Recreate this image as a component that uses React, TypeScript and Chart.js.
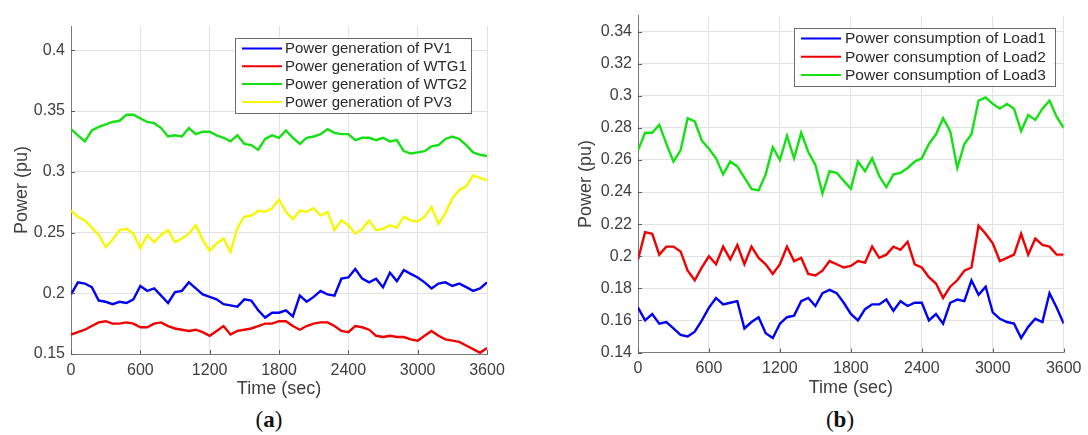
import { useEffect, useRef } from "react";
import { Chart, registerables } from "chart.js";

Chart.register(...registerables);

// ---------- data ----------
const timeSec = [
  0, 60, 120, 180, 240, 300, 360, 420, 480, 540, 600, 660, 720, 780, 840, 900,
  960, 1020, 1080, 1140, 1200, 1260, 1320, 1380, 1440, 1500, 1560, 1620, 1680,
  1740, 1800, 1860, 1920, 1980, 2040, 2100, 2160, 2220, 2280, 2340, 2400, 2460,
  2520, 2580, 2640, 2700, 2760, 2820, 2880, 2940, 3000, 3060, 3120, 3180, 3240,
  3300, 3360, 3420, 3480, 3540, 3600,
];
const timeTicks = [0, 600, 1200, 1800, 2400, 3000, 3600];
const genTicks = [0.15, 0.2, 0.25, 0.3, 0.35, 0.4];
const loadTicks = [0.14, 0.16, 0.18, 0.2, 0.22, 0.24, 0.26, 0.28, 0.3, 0.32, 0.34];

const genLabels = [
  "Power generation of PV1",
  "Power generation of WTG1",
  "Power generation of WTG2",
  "Power generation of PV3",
];
const loadLabels = [
  "Power consumption of Load1",
  "Power consumption of Load2",
  "Power consumption of Load3",
];

const pv1 = [
  0.199, 0.209, 0.208, 0.205, 0.194, 0.193, 0.191, 0.193, 0.192, 0.195, 0.206,
  0.202, 0.204, 0.198, 0.192, 0.201, 0.202, 0.209, 0.204, 0.199, 0.197, 0.195,
  0.191, 0.19, 0.189, 0.195, 0.194, 0.186, 0.18, 0.184, 0.184, 0.186, 0.181,
  0.198, 0.193, 0.197, 0.202, 0.199, 0.198, 0.212, 0.213, 0.22, 0.212, 0.209,
  0.212, 0.205, 0.217, 0.21, 0.219, 0.216, 0.213, 0.209, 0.204, 0.208, 0.209,
  0.206, 0.208, 0.205, 0.202, 0.204, 0.209,
];
const wtg1 = [
  0.166, 0.168, 0.17, 0.173, 0.176, 0.177, 0.175, 0.175, 0.176, 0.175, 0.172,
  0.172, 0.175, 0.176, 0.173, 0.171, 0.17, 0.169, 0.17, 0.168, 0.165, 0.169,
  0.173, 0.166, 0.169, 0.17, 0.171, 0.173, 0.175, 0.175, 0.177, 0.177, 0.173,
  0.17, 0.173, 0.175, 0.176, 0.176, 0.173, 0.169, 0.168, 0.173, 0.172, 0.17,
  0.165, 0.164, 0.165, 0.164, 0.164, 0.162, 0.161, 0.165, 0.169, 0.165, 0.162,
  0.161, 0.16, 0.157, 0.154, 0.151, 0.155,
];
const wtg2 = [
  0.335, 0.33, 0.325, 0.334, 0.337, 0.339, 0.341, 0.342, 0.347, 0.347, 0.344,
  0.341, 0.34, 0.336, 0.329, 0.33, 0.329, 0.336, 0.331, 0.333, 0.333, 0.33,
  0.328, 0.325, 0.33, 0.323, 0.322, 0.318, 0.327, 0.33, 0.328, 0.334, 0.328,
  0.323, 0.328, 0.329, 0.331, 0.335, 0.332, 0.331, 0.331, 0.326, 0.328, 0.328,
  0.326, 0.328, 0.325, 0.326, 0.317, 0.315, 0.316, 0.317, 0.321, 0.322, 0.327,
  0.329, 0.327, 0.322, 0.316, 0.314, 0.313,
];
const pv3 = [
  0.268, 0.263, 0.26, 0.254, 0.248, 0.238, 0.244, 0.252, 0.253, 0.249, 0.237,
  0.248, 0.242, 0.248, 0.252, 0.242, 0.245, 0.249, 0.256, 0.244, 0.235, 0.241,
  0.245, 0.234, 0.254, 0.263, 0.264, 0.268, 0.267, 0.27, 0.277, 0.267, 0.261,
  0.268, 0.267, 0.27, 0.264, 0.267, 0.252, 0.26, 0.256, 0.249, 0.253, 0.26,
  0.252, 0.253, 0.256, 0.254, 0.263, 0.26, 0.259, 0.263, 0.271, 0.257, 0.266,
  0.278, 0.285, 0.288, 0.297, 0.295, 0.293,
];

const load1 = [
  0.168, 0.16, 0.164, 0.158, 0.159, 0.155, 0.151, 0.15, 0.153, 0.16, 0.168,
  0.174, 0.17, 0.171, 0.172, 0.155, 0.159, 0.162, 0.152, 0.149, 0.158, 0.162,
  0.163, 0.172, 0.174, 0.169, 0.177, 0.179, 0.177, 0.171, 0.164, 0.16, 0.167,
  0.17, 0.17, 0.173, 0.166, 0.172, 0.169, 0.171, 0.171, 0.16, 0.164, 0.158,
  0.171, 0.173, 0.172, 0.185, 0.176, 0.181, 0.165, 0.161, 0.159, 0.158, 0.149,
  0.156, 0.161, 0.159, 0.177, 0.168, 0.158,
];
const load2 = [
  0.198, 0.215, 0.214, 0.201, 0.206, 0.206, 0.203, 0.191, 0.185, 0.193, 0.2,
  0.195, 0.206, 0.198, 0.207, 0.195, 0.206, 0.199, 0.195, 0.189, 0.195, 0.206,
  0.197, 0.199, 0.189, 0.188, 0.191, 0.197, 0.195, 0.193, 0.194, 0.197, 0.196,
  0.206, 0.199, 0.201, 0.206, 0.204, 0.209, 0.195, 0.193, 0.187, 0.183, 0.174,
  0.181, 0.185, 0.191, 0.193, 0.219, 0.214, 0.208, 0.197, 0.199, 0.201, 0.214,
  0.201, 0.211, 0.207, 0.206, 0.201, 0.201,
];
const load3 = [
  0.266, 0.277, 0.277, 0.282, 0.27, 0.259, 0.266, 0.286, 0.284, 0.272, 0.267,
  0.261, 0.251, 0.259, 0.256, 0.249, 0.242, 0.241, 0.251, 0.268, 0.26, 0.275,
  0.261, 0.277, 0.265, 0.257, 0.239, 0.253, 0.252, 0.247, 0.242, 0.259, 0.253,
  0.261, 0.25, 0.243, 0.251, 0.252, 0.255, 0.259, 0.261, 0.27, 0.276, 0.286,
  0.278, 0.255, 0.27, 0.276, 0.297, 0.299, 0.295, 0.292, 0.295, 0.292, 0.278,
  0.288, 0.285, 0.292, 0.297, 0.287, 0.28,
];

// ---------- styling ----------
const SANS = '"Liberation Sans", Arial, Helvetica, sans-serif';
const BLUE = "#0000f5";
const RED = "#f00000";
const GREEN = "#14e014";
const YELLOW = "#f7f700";
const TEXT = "#404040";
const GRID = "#e2e2e2";
const AXIS = "#7a7a7a";

const innerTicks = {
  id: "innerTicks",
  afterDatasetsDraw(chart: any) {
    const { ctx, chartArea, scales } = chart;
    const x = scales.x;
    const y = scales.y;
    ctx.save();
    ctx.strokeStyle = "#5c5c5c";
    ctx.lineWidth = 1;
    ctx.beginPath();
    x.ticks.forEach((t: any) => {
      const px = Math.round(x.getPixelForValue(t.value)) + 0.5;
      ctx.moveTo(px, chartArea.bottom);
      ctx.lineTo(px, chartArea.bottom - 4);
    });
    y.ticks.forEach((t: any) => {
      const py = Math.round(y.getPixelForValue(t.value)) + 0.5;
      ctx.moveTo(chartArea.left, py);
      ctx.lineTo(chartArea.left + 4, py);
    });
    ctx.stroke();
    ctx.restore();
  },
};

const boxLegend = {
  id: "boxLegend",
  afterDraw(chart: any, _args: any, opts: any) {
    const { ctx } = chart;
    const { x, y, w, h, rowY0, rowGap, lineX1, lineX2, textX, fontSize } = opts;
    ctx.save();
    ctx.fillStyle = "#ffffff";
    ctx.fillRect(x, y, w, h);
    ctx.strokeStyle = "#6b6b6b";
    ctx.lineWidth = 1;
    ctx.strokeRect(Math.round(x) + 0.5, Math.round(y) + 0.5, Math.round(w), Math.round(h));
    ctx.font = `${fontSize}px ${SANS}`;
    ctx.textBaseline = "middle";
    ctx.textAlign = "left";
    chart.data.datasets.forEach((ds: any, i: number) => {
      const ry = rowY0 + i * rowGap;
      ctx.strokeStyle = ds.borderColor;
      ctx.lineWidth = 2;
      ctx.beginPath();
      ctx.moveTo(lineX1, ry);
      ctx.lineTo(lineX2, ry);
      ctx.stroke();
      ctx.fillStyle = "#2a2a2a";
      ctx.fillText(ds.label, textX, ry + 0.5);
    });
    ctx.restore();
  },
};

type PanelProps = {
  width: number;
  height: number;
  labels: string[];
  series: number[][];
  colors: string[];
  yMin: number;
  yMax: number;
  yTicks: number[];
  padRight: number;
  padTop: number;
  yWidth: number;
  xHeight: number;
  yTitlePad: number;
  xTickPad: number;
  legend: any;
};

function Panel(p: PanelProps) {
  const ref = useRef<HTMLCanvasElement | null>(null);
  useEffect(() => {
    if (!ref.current) return;
    const chart = new Chart(ref.current, {
      type: "line",
      data: {
        datasets: p.series.map((vals, i) => ({
          label: p.labels[i],
          data: timeSec.map((t, k) => ({ x: t, y: vals[k] })),
          borderColor: p.colors[i],
          backgroundColor: p.colors[i],
          borderWidth: 2.4,
          pointRadius: 0,
          tension: 0,
          fill: false,
        })),
      },
      options: {
        animation: false,
        responsive: false,
        maintainAspectRatio: false,
        layout: { padding: { left: 0, right: p.padRight, top: p.padTop, bottom: 0 } },
        plugins: {
          legend: { display: false },
          tooltip: { enabled: false },
          boxLegend: p.legend,
        } as any,
        scales: {
          x: {
            type: "linear",
            min: 0,
            max: 3600,
            afterBuildTicks: (s: any) => {
              s.ticks = timeTicks.map((v) => ({ value: v }));
            },
            afterFit: (s: any) => {
              s.height = p.xHeight;
            },
            grid: { color: GRID, drawTicks: false, lineWidth: 1 },
            border: { display: true, color: AXIS, width: 1 },
            ticks: {
              padding: p.xTickPad,
              color: TEXT,
              font: { family: SANS, size: 16 },
              maxRotation: 0,
              autoSkip: false,
              callback: (v: any) => String(v),
            },
            title: {
              display: true,
              text: "Time (sec)",
              color: TEXT,
              font: { family: SANS, size: 18 },
              padding: { top: 0, bottom: 0 },
            },
          },
          y: {
            type: "linear",
            min: p.yMin,
            max: p.yMax,
            afterBuildTicks: (s: any) => {
              s.ticks = p.yTicks.map((v) => ({ value: v }));
            },
            afterFit: (s: any) => {
              s.width = p.yWidth;
            },
            grid: { color: GRID, drawTicks: false, lineWidth: 1 },
            border: { display: true, color: AXIS, width: 1 },
            ticks: {
              padding: 6,
              color: TEXT,
              font: { family: SANS, size: 16 },
              autoSkip: false,
              callback: (v: any) => String(v),
            },
            title: {
              display: true,
              text: "Power (pu)",
              color: TEXT,
              font: { family: SANS, size: 18 },
              padding: { top: p.yTitlePad, bottom: 0 },
            },
          },
        },
      } as any,
      plugins: [innerTicks, boxLegend],
    });
    return () => chart.destroy();
  }, []);
  return (
    <canvas
      ref={ref}
      width={p.width}
      height={p.height}
      style={{ display: "block", width: p.width, height: p.height }}
    />
  );
}

const captionStyle: any = {
  position: "absolute",
  top: 408,
  width: 100,
  height: 24,
  lineHeight: "24px",
  textAlign: "center",
  fontFamily: '"Liberation Serif", "Times New Roman", serif',
  fontSize: 23,
  color: "#111",
};

export default function App() {
  return (
    <div
      style={{
        position: "fixed",
        left: 0,
        top: 0,
        width: 1088,
        height: 435,
        background: "#ffffff",
        overflow: "hidden",
      }}
    >
      <div style={{ position: "absolute", left: 0, top: 0 }}>
        <Panel
          width={544}
          height={400}
          labels={genLabels}
          series={[pv1, wtg1, wtg2, pv3]}
          colors={[BLUE, RED, GREEN, YELLOW]}
          yMin={0.15}
          yMax={0.42}
          yTicks={genTicks}
          padRight={57}
          padTop={26}
          yWidth={71}
          xHeight={46}
          yTitlePad={11}
          xTickPad={7}
          legend={{
            x: 234.5,
            y: 37.5,
            w: 235.5,
            h: 75,
            rowY0: 48.5,
            rowGap: 17.8,
            lineX1: 242,
            lineX2: 282,
            textX: 285,
            fontSize: 15,
          }}
        />
      </div>
      <div style={{ position: "absolute", left: 544, top: 0 }}>
        <Panel
          width={544}
          height={399}
          labels={loadLabels}
          series={[load1, load2, load3]}
          colors={[BLUE, RED, GREEN]}
          yMin={0.14}
          yMax={0.35}
          yTicks={loadTicks}
          padRight={21}
          padTop={14}
          yWidth={94}
          xHeight={46.5}
          yTitlePad={31}
          xTickPad={6.5}
          legend={{
            x: 249.5,
            y: 27.5,
            w: 260.5,
            h: 58,
            rowY0: 38.5,
            rowGap: 18.3,
            lineX1: 257,
            lineX2: 297,
            textX: 301,
            fontSize: 15.5,
          }}
        />
      </div>
      <div style={{ ...captionStyle, left: 219 }}>
        (<b>a</b>)
      </div>
      <div style={{ ...captionStyle, left: 790 }}>
        (<b>b</b>)
      </div>
    </div>
  );
}
